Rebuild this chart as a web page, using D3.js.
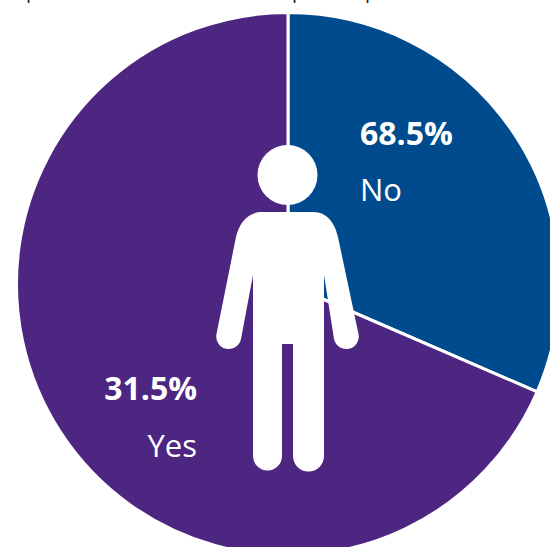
<!DOCTYPE html>
<html>
<head>
<meta charset="utf-8">
<script src="https://cdn.jsdelivr.net/npm/d3@7"></script>
<style>
  html, body { margin: 0; padding: 0; background: #fff; overflow: hidden; }
  svg { display: block; }
</style>
</head>
<body>
<div id="chart"></div>
<script>
// Slices clockwise from 12 o'clock, sized as they appear in the picture
const categories = ['No', 'Yes'];
const sliceValues = [31.5, 68.5];
// Percentages as printed on the picture
const printedLabels = ['68.5%', '31.5%'];
const sliceColors = ['#004b8d', '#4d2682'];

const width = 550;
const height = 547;
const cx = 288;
const cy = 284;
const radius = 271.5;

const svg = d3.select('#chart')
  .append('svg')
  .attr('width', width)
  .attr('height', height);

// Cropped caption line above the pie, only the descenders are in frame
svg.selectAll('text.cut')
  .data([32, 298, 371])
  .enter()
  .append('text')
  .attr('class', 'cut')
  .attr('x', (d) => d)
  .attr('y', -2)
  .attr('text-anchor', 'middle')
  .attr('font-family', '"Open Sans", sans-serif')
  .attr('font-size', 20)
  .attr('fill', '#222')
  .text('p');

const pie = d3.pie().sort(null).value((d) => d.value);
const arc = d3.arc().innerRadius(0).outerRadius(radius);

const g = svg.append('g')
  .attr('transform', `translate(${cx},${cy})`);

const rows = categories.map((c, i) => ({ name: c, value: sliceValues[i], color: sliceColors[i] }));

g.selectAll('path.slice')
  .data(pie(rows))
  .enter()
  .append('path')
  .attr('class', 'slice')
  .attr('d', arc)
  .attr('fill', (d) => d.data.color)
  .attr('stroke', '#fff')
  .attr('stroke-width', 3)
  .attr('stroke-linejoin', 'round');

// Person icon, drawn relative to the pie centre
const person = svg.append('g')
  .attr('transform', `translate(${cx},${cy})`)
  .attr('fill', '#fff');

person.append('circle')
  .attr('cx', -0.5)
  .attr('cy', -109)
  .attr('r', 30);

person.append('path')
  .attr('d', 'M-26,-72 L25,-72 C40,-72 47,-60 50,-47 L70.5,50 ' +
    'A12.5,12.5 0 0 1 46,55 L36,-9 L36,172 A15.5,15.5 0 0 1 5,172 L5,60 L-6,60 L-6,172 ' +
    'A14.5,14.5 0 0 1 -35,172 L-35,-9 L-47,55 A12.5,12.5 0 0 1 -71.5,50 L-52,-47 C-49,-60 -41,-72 -26,-72 Z');

// Labels
const labelPos = [
  { x: 360, yValue: 145, yName: 201, anchor: 'start' },
  { x: 197, yValue: 400, yName: 457, anchor: 'end' }
];

const labels = svg.selectAll('g.label')
  .data(categories)
  .enter()
  .append('g')
  .attr('class', 'label')
  .attr('font-family', '"Open Sans", sans-serif')
  .attr('fill', '#fff');

labels.append('text')
  .attr('x', (d, i) => labelPos[i].x)
  .attr('y', (d, i) => labelPos[i].yValue)
  .attr('text-anchor', (d, i) => labelPos[i].anchor)
  .attr('font-size', 32)
  .attr('font-weight', 700)
  .text((d, i) => printedLabels[i]);

labels.append('text')
  .attr('x', (d, i) => labelPos[i].x)
  .attr('y', (d, i) => labelPos[i].yName)
  .attr('text-anchor', (d, i) => labelPos[i].anchor)
  .attr('font-size', 31)
  .text((d) => d);
</script>
</body>
</html>
